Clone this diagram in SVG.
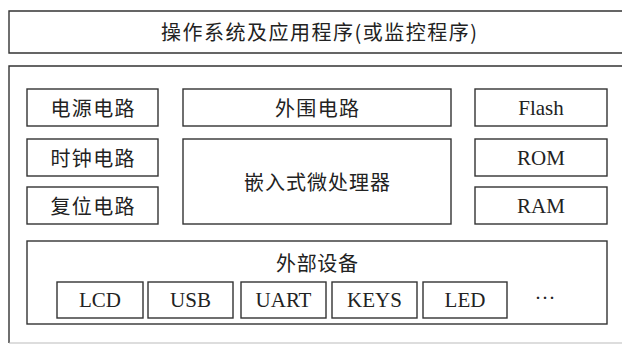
<svg xmlns="http://www.w3.org/2000/svg" width="622" height="345" viewBox="0 0 622 345">
<style>
.b{fill:#fff;stroke:#333;stroke-width:1.4}
.cn{font-family:"Noto Sans CJK SC","Liberation Serif",serif;font-size:20px;fill:#222;text-anchor:middle;dominant-baseline:central}
.en{font-family:"Liberation Serif",serif;font-size:21px;fill:#222;text-anchor:middle;dominant-baseline:central}
</style>
<rect width="622" height="345" fill="#fff"/>
<g id="os">
<path class="b" d="M630 11 H9 V53 H630"/>
<text class="cn" x="319" y="31" textLength="316" lengthAdjust="spacing">操作系统及应用程序(或监控程序)</text>
</g>
<g id="hw">
<path d="M630 66 H9 V343" fill="none" stroke="#333" stroke-width="1.4"/>
<path d="M9 343 H630" fill="none" stroke="#bbb" stroke-width="1.2"/>
</g>
<g id="power"><rect class="b" x="27" y="89" width="131" height="37"/><text class="cn" x="92.5" y="107.5" textLength="84" lengthAdjust="spacing">电源电路</text></g>
<g id="peripheral"><rect class="b" x="183" y="89" width="268" height="37"/><text class="cn" x="317" y="107.5" textLength="84" lengthAdjust="spacing">外围电路</text></g>
<g id="flash"><rect class="b" x="475" y="89" width="132" height="37"/><text class="en" x="541" y="107.5">Flash</text></g>
<g id="clock"><rect class="b" x="27" y="139" width="131" height="37"/><text class="cn" x="92.5" y="157.5" textLength="84" lengthAdjust="spacing">时钟电路</text></g>
<g id="cpu"><rect class="b" x="183" y="139" width="268" height="85"/><text class="cn" x="317" y="181" textLength="146" lengthAdjust="spacing">嵌入式微处理器</text></g>
<g id="rom"><rect class="b" x="475" y="139" width="132" height="37"/><text class="en" x="541" y="157.5">ROM</text></g>
<g id="reset"><rect class="b" x="27" y="187" width="131" height="37"/><text class="cn" x="92.5" y="205.5" textLength="84" lengthAdjust="spacing">复位电路</text></g>
<g id="ram"><rect class="b" x="475" y="187" width="132" height="37"/><text class="en" x="541" y="205.5">RAM</text></g>
<g id="external"><rect class="b" x="27" y="241" width="580" height="83"/><text class="cn" x="317" y="262" textLength="82" lengthAdjust="spacing">外部设备</text></g>
<g id="lcd"><rect class="b" x="57" y="282" width="86" height="36"/><text class="en" x="100" y="300">LCD</text></g>
<g id="usb"><rect class="b" x="148" y="282" width="85" height="36"/><text class="en" x="190.5" y="300">USB</text></g>
<g id="uart"><rect class="b" x="241" y="282" width="85" height="36"/><text class="en" x="283.5" y="300">UART</text></g>
<g id="keys"><rect class="b" x="332" y="282" width="85" height="36"/><text class="en" x="374.5" y="300">KEYS</text></g>
<g id="led"><rect class="b" x="423" y="282" width="84" height="36"/><text class="en" x="465" y="300">LED</text></g>
<g id="more"><text class="en" x="545" y="298">···</text></g>
<g id="connectors"/>
</svg>
